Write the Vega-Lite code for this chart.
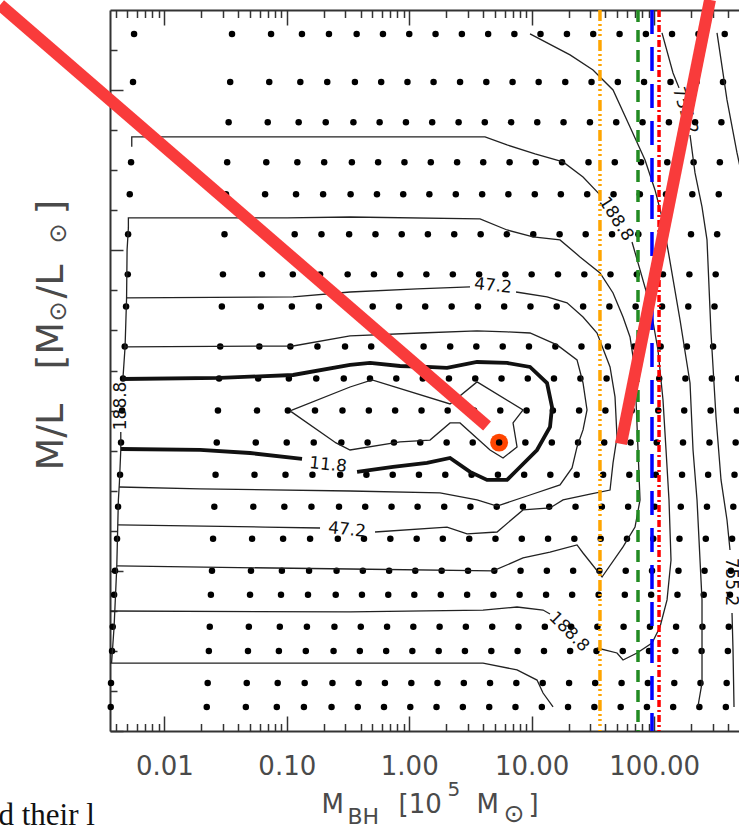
{
"$schema": "https://vega.github.io/schema/vega-lite/v6.json",
"width": 629, "height": 721,
"autosize": {"type": "none"},
"padding": {"left": 110, "top": 10, "right": 0, "bottom": 95},
"background": "white",
"config": {"view": {"stroke": null}, "axis": {"grid": false, "domain": false, "ticks": false, "labels": false, "domainColor": "#333333", "domainWidth": 2, "tickColor": "#333333", "tickWidth": 1.5, "labelFont": "DejaVu Sans", "labelColor": "#4a4a4a", "titleFont": "DejaVu Sans", "titleFontWeight": "normal", "titleColor": "#4a4a4a", "titleAlign": "left", "titleBaseline": "alphabetic"}},
"resolve": {"axis": {"x": "independent", "y": "independent"}},
"datasets": {
"best": [{"M_BH": 5.42, "ML": 1.8}],
"dots": [
{"M_BH":0.00566,"ML":4.35},{"M_BH":0.0357,"ML":4.35},{"M_BH":0.0744,"ML":4.35},{"M_BH":0.133,"ML":4.35},{"M_BH":0.221,"ML":4.35},{"M_BH":0.372,"ML":4.35},{"M_BH":0.610,"ML":4.35},{"M_BH":1.00,"ML":4.35},{"M_BH":1.64,"ML":4.35},{"M_BH":2.69,"ML":4.35},{"M_BH":4.41,"ML":4.35},{"M_BH":7.22,"ML":4.35},{"M_BH":11.8,"ML":4.35},{"M_BH":19.4,"ML":4.35},{"M_BH":31.8,"ML":4.35},{"M_BH":52.2,"ML":4.35},{"M_BH":85.6,"ML":4.35},{"M_BH":140,"ML":4.35},{"M_BH":230,"ML":4.35},{"M_BH":377,"ML":4.35},
{"M_BH":0.00555,"ML":4.05},{"M_BH":0.0345,"ML":4.05},{"M_BH":0.0719,"ML":4.05},{"M_BH":0.129,"ML":4.05},{"M_BH":0.214,"ML":4.05},{"M_BH":0.360,"ML":4.05},{"M_BH":0.590,"ML":4.05},{"M_BH":0.967,"ML":4.05},{"M_BH":1.58,"ML":4.05},{"M_BH":2.60,"ML":4.05},{"M_BH":4.26,"ML":4.05},{"M_BH":6.98,"ML":4.05},{"M_BH":11.4,"ML":4.05},{"M_BH":18.8,"ML":4.05},{"M_BH":30.8,"ML":4.05},{"M_BH":50.5,"ML":4.05},{"M_BH":82.7,"ML":4.05},{"M_BH":136,"ML":4.05},{"M_BH":222,"ML":4.05},{"M_BH":365,"ML":4.05},
{"M_BH":0.0335,"ML":3.8},{"M_BH":0.0699,"ML":3.8},{"M_BH":0.125,"ML":3.8},{"M_BH":0.208,"ML":3.8},{"M_BH":0.350,"ML":3.8},{"M_BH":0.573,"ML":3.8},{"M_BH":0.940,"ML":3.8},{"M_BH":1.54,"ML":3.8},{"M_BH":2.53,"ML":3.8},{"M_BH":4.14,"ML":3.8},{"M_BH":6.79,"ML":3.8},{"M_BH":11.1,"ML":3.8},{"M_BH":18.2,"ML":3.8},{"M_BH":29.9,"ML":3.8},{"M_BH":49.0,"ML":3.8},{"M_BH":80.4,"ML":3.8},{"M_BH":132,"ML":3.8},{"M_BH":216,"ML":3.8},{"M_BH":354,"ML":3.8},
{"M_BH":0.00535,"ML":3.55},{"M_BH":0.0326,"ML":3.55},{"M_BH":0.0680,"ML":3.55},{"M_BH":0.122,"ML":3.55},{"M_BH":0.202,"ML":3.55},{"M_BH":0.340,"ML":3.55},{"M_BH":0.557,"ML":3.55},{"M_BH":0.914,"ML":3.55},{"M_BH":1.50,"ML":3.55},{"M_BH":2.46,"ML":3.55},{"M_BH":4.02,"ML":3.55},{"M_BH":6.60,"ML":3.55},{"M_BH":10.8,"ML":3.55},{"M_BH":17.7,"ML":3.55},{"M_BH":29.1,"ML":3.55},{"M_BH":47.7,"ML":3.55},{"M_BH":78.2,"ML":3.55},{"M_BH":128,"ML":3.55},{"M_BH":210,"ML":3.55},{"M_BH":344,"ML":3.55},
{"M_BH":0.00522,"ML":3.35},{"M_BH":0.0319,"ML":3.35},{"M_BH":0.0665,"ML":3.35},{"M_BH":0.119,"ML":3.35},{"M_BH":0.198,"ML":3.35},{"M_BH":0.332,"ML":3.35},{"M_BH":0.545,"ML":3.35},{"M_BH":0.893,"ML":3.35},{"M_BH":1.46,"ML":3.35},{"M_BH":2.40,"ML":3.35},{"M_BH":3.94,"ML":3.35},{"M_BH":6.45,"ML":3.35},{"M_BH":10.6,"ML":3.35},{"M_BH":17.3,"ML":3.35},{"M_BH":28.4,"ML":3.35},{"M_BH":46.6,"ML":3.35},{"M_BH":76.4,"ML":3.35},{"M_BH":125,"ML":3.35},{"M_BH":205,"ML":3.35},{"M_BH":337,"ML":3.35},
{"M_BH":0.00506,"ML":3.1},{"M_BH":0.0310,"ML":3.1},{"M_BH":0.0646,"ML":3.1},{"M_BH":0.116,"ML":3.1},{"M_BH":0.192,"ML":3.1},{"M_BH":0.323,"ML":3.1},{"M_BH":0.530,"ML":3.1},{"M_BH":0.868,"ML":3.1},{"M_BH":1.42,"ML":3.1},{"M_BH":2.33,"ML":3.1},{"M_BH":3.83,"ML":3.1},{"M_BH":6.27,"ML":3.1},{"M_BH":10.3,"ML":3.1},{"M_BH":16.9,"ML":3.1},{"M_BH":27.6,"ML":3.1},{"M_BH":45.3,"ML":3.1},{"M_BH":74.3,"ML":3.1},{"M_BH":122,"ML":3.1},{"M_BH":200,"ML":3.1},{"M_BH":327,"ML":3.1},
{"M_BH":0.00503,"ML":2.85},{"M_BH":0.0301,"ML":2.85},{"M_BH":0.0628,"ML":2.85},{"M_BH":0.112,"ML":2.85},{"M_BH":0.187,"ML":2.85},{"M_BH":0.314,"ML":2.85},{"M_BH":0.515,"ML":2.85},{"M_BH":0.844,"ML":2.85},{"M_BH":1.38,"ML":2.85},{"M_BH":2.27,"ML":2.85},{"M_BH":3.72,"ML":2.85},{"M_BH":6.10,"ML":2.85},{"M_BH":9.99,"ML":2.85},{"M_BH":16.4,"ML":2.85},{"M_BH":26.9,"ML":2.85},{"M_BH":44.0,"ML":2.85},{"M_BH":72.2,"ML":2.85},{"M_BH":118,"ML":2.85},{"M_BH":194,"ML":2.85},{"M_BH":318,"ML":2.85},
{"M_BH":0.00487,"ML":2.65},{"M_BH":0.0295,"ML":2.65},{"M_BH":0.0614,"ML":2.65},{"M_BH":0.110,"ML":2.65},{"M_BH":0.183,"ML":2.65},{"M_BH":0.307,"ML":2.65},{"M_BH":0.503,"ML":2.65},{"M_BH":0.825,"ML":2.65},{"M_BH":1.35,"ML":2.65},{"M_BH":2.22,"ML":2.65},{"M_BH":3.64,"ML":2.65},{"M_BH":5.96,"ML":2.65},{"M_BH":9.77,"ML":2.65},{"M_BH":16.0,"ML":2.65},{"M_BH":26.3,"ML":2.65},{"M_BH":43.1,"ML":2.65},{"M_BH":70.6,"ML":2.65},{"M_BH":116,"ML":2.65},{"M_BH":190,"ML":2.65},{"M_BH":311,"ML":2.65},
{"M_BH":0.00475,"ML":2.4},{"M_BH":0.0286,"ML":2.4},{"M_BH":0.0597,"ML":2.4},{"M_BH":0.107,"ML":2.4},{"M_BH":0.178,"ML":2.4},{"M_BH":0.299,"ML":2.4},{"M_BH":0.489,"ML":2.4},{"M_BH":0.802,"ML":2.4},{"M_BH":1.31,"ML":2.4},{"M_BH":2.16,"ML":2.4},{"M_BH":3.53,"ML":2.4},{"M_BH":5.80,"ML":2.4},{"M_BH":9.50,"ML":2.4},{"M_BH":15.6,"ML":2.4},{"M_BH":25.5,"ML":2.4},{"M_BH":41.9,"ML":2.4},{"M_BH":68.7,"ML":2.4},{"M_BH":113,"ML":2.4},{"M_BH":185,"ML":2.4},{"M_BH":303,"ML":2.4},
{"M_BH":0.00460,"ML":2.2},{"M_BH":0.0280,"ML":2.2},{"M_BH":0.0584,"ML":2.2},{"M_BH":0.104,"ML":2.2},{"M_BH":0.174,"ML":2.2},{"M_BH":0.292,"ML":2.2},{"M_BH":0.478,"ML":2.2},{"M_BH":0.784,"ML":2.2},{"M_BH":1.29,"ML":2.2},{"M_BH":2.11,"ML":2.2},{"M_BH":3.46,"ML":2.2},{"M_BH":5.67,"ML":2.2},{"M_BH":9.29,"ML":2.2},{"M_BH":15.2,"ML":2.2},{"M_BH":25.0,"ML":2.2},{"M_BH":40.9,"ML":2.2},{"M_BH":67.1,"ML":2.2},{"M_BH":110,"ML":2.2},{"M_BH":180,"ML":2.2},{"M_BH":296,"ML":2.2},{"M_BH":485,"ML":2.2},
{"M_BH":0.00452,"ML":2.0},{"M_BH":0.0274,"ML":2.0},{"M_BH":0.0571,"ML":2.0},{"M_BH":0.102,"ML":2.0},{"M_BH":0.170,"ML":2.0},{"M_BH":0.285,"ML":2.0},{"M_BH":0.468,"ML":2.0},{"M_BH":0.767,"ML":2.0},{"M_BH":1.26,"ML":2.0},{"M_BH":2.06,"ML":2.0},{"M_BH":3.38,"ML":2.0},{"M_BH":5.54,"ML":2.0},{"M_BH":9.08,"ML":2.0},{"M_BH":14.9,"ML":2.0},{"M_BH":24.4,"ML":2.0},{"M_BH":40.0,"ML":2.0},{"M_BH":65.6,"ML":2.0},{"M_BH":108,"ML":2.0},{"M_BH":176,"ML":2.0},{"M_BH":289,"ML":2.0},{"M_BH":474,"ML":2.0},
{"M_BH":0.00443,"ML":1.8},{"M_BH":0.0268,"ML":1.8},{"M_BH":0.0558,"ML":1.8},{"M_BH":0.0999,"ML":1.8},{"M_BH":0.166,"ML":1.8},{"M_BH":0.279,"ML":1.8},{"M_BH":0.457,"ML":1.8},{"M_BH":0.750,"ML":1.8},{"M_BH":1.23,"ML":1.8},{"M_BH":2.02,"ML":1.8},{"M_BH":3.30,"ML":1.8},{"M_BH":5.42,"ML":1.8},{"M_BH":8.88,"ML":1.8},{"M_BH":14.6,"ML":1.8},{"M_BH":23.9,"ML":1.8},{"M_BH":39.1,"ML":1.8},{"M_BH":64.2,"ML":1.8},{"M_BH":105,"ML":1.8},{"M_BH":172,"ML":1.8},{"M_BH":283,"ML":1.8},{"M_BH":463,"ML":1.8},
{"M_BH":0.00435,"ML":1.6},{"M_BH":0.0262,"ML":1.6},{"M_BH":0.0545,"ML":1.6},{"M_BH":0.0976,"ML":1.6},{"M_BH":0.162,"ML":1.6},{"M_BH":0.273,"ML":1.6},{"M_BH":0.447,"ML":1.6},{"M_BH":0.733,"ML":1.6},{"M_BH":1.20,"ML":1.6},{"M_BH":1.97,"ML":1.6},{"M_BH":3.23,"ML":1.6},{"M_BH":5.30,"ML":1.6},{"M_BH":8.68,"ML":1.6},{"M_BH":14.2,"ML":1.6},{"M_BH":23.3,"ML":1.6},{"M_BH":38.3,"ML":1.6},{"M_BH":62.7,"ML":1.6},{"M_BH":103,"ML":1.6},{"M_BH":169,"ML":1.6},{"M_BH":276,"ML":1.6},{"M_BH":453,"ML":1.6},
{"M_BH":0.00419,"ML":1.4},{"M_BH":0.0256,"ML":1.4},{"M_BH":0.0533,"ML":1.4},{"M_BH":0.0955,"ML":1.4},{"M_BH":0.159,"ML":1.4},{"M_BH":0.267,"ML":1.4},{"M_BH":0.437,"ML":1.4},{"M_BH":0.717,"ML":1.4},{"M_BH":1.17,"ML":1.4},{"M_BH":1.93,"ML":1.4},{"M_BH":3.16,"ML":1.4},{"M_BH":5.18,"ML":1.4},{"M_BH":8.48,"ML":1.4},{"M_BH":13.9,"ML":1.4},{"M_BH":22.8,"ML":1.4},{"M_BH":37.4,"ML":1.4},{"M_BH":61.3,"ML":1.4},{"M_BH":101,"ML":1.4},{"M_BH":165,"ML":1.4},{"M_BH":270,"ML":1.4},{"M_BH":443,"ML":1.4},
{"M_BH":0.00411,"ML":1.2},{"M_BH":0.0250,"ML":1.2},{"M_BH":0.0521,"ML":1.2},{"M_BH":0.0933,"ML":1.2},{"M_BH":0.155,"ML":1.2},{"M_BH":0.261,"ML":1.2},{"M_BH":0.427,"ML":1.2},{"M_BH":0.701,"ML":1.2},{"M_BH":1.15,"ML":1.2},{"M_BH":1.88,"ML":1.2},{"M_BH":3.09,"ML":1.2},{"M_BH":5.06,"ML":1.2},{"M_BH":8.30,"ML":1.2},{"M_BH":13.6,"ML":1.2},{"M_BH":22.3,"ML":1.2},{"M_BH":36.6,"ML":1.2},{"M_BH":60.0,"ML":1.2},{"M_BH":98.3,"ML":1.2},{"M_BH":161,"ML":1.2},{"M_BH":264,"ML":1.2},{"M_BH":433,"ML":1.2},
{"M_BH":0.00396,"ML":1.0},{"M_BH":0.0245,"ML":1.0},{"M_BH":0.0510,"ML":1.0},{"M_BH":0.0912,"ML":1.0},{"M_BH":0.152,"ML":1.0},{"M_BH":0.255,"ML":1.0},{"M_BH":0.418,"ML":1.0},{"M_BH":0.685,"ML":1.0},{"M_BH":1.12,"ML":1.0},{"M_BH":1.84,"ML":1.0},{"M_BH":3.02,"ML":1.0},{"M_BH":4.95,"ML":1.0},{"M_BH":8.11,"ML":1.0},{"M_BH":13.3,"ML":1.0},{"M_BH":21.8,"ML":1.0},{"M_BH":35.7,"ML":1.0},{"M_BH":58.6,"ML":1.0},{"M_BH":96.1,"ML":1.0},{"M_BH":158,"ML":1.0},{"M_BH":258,"ML":1.0},{"M_BH":423,"ML":1.0},
{"M_BH":0.00389,"ML":0.85},{"M_BH":0.0240,"ML":0.85},{"M_BH":0.0501,"ML":0.85},{"M_BH":0.0897,"ML":0.85},{"M_BH":0.149,"ML":0.85},{"M_BH":0.251,"ML":0.85},{"M_BH":0.411,"ML":0.85},{"M_BH":0.674,"ML":0.85},{"M_BH":1.10,"ML":0.85},{"M_BH":1.81,"ML":0.85},{"M_BH":2.97,"ML":0.85},{"M_BH":4.87,"ML":0.85},{"M_BH":7.97,"ML":0.85},{"M_BH":13.1,"ML":0.85},{"M_BH":21.4,"ML":0.85},{"M_BH":35.2,"ML":0.85},{"M_BH":57.6,"ML":0.85},{"M_BH":94.5,"ML":0.85},{"M_BH":155,"ML":0.85},{"M_BH":254,"ML":0.85},{"M_BH":416,"ML":0.85},
{"M_BH":0.00379,"ML":0.65},{"M_BH":0.0235,"ML":0.65},{"M_BH":0.0490,"ML":0.65},{"M_BH":0.0877,"ML":0.65},{"M_BH":0.146,"ML":0.65},{"M_BH":0.245,"ML":0.65},{"M_BH":0.402,"ML":0.65},{"M_BH":0.659,"ML":0.65},{"M_BH":1.08,"ML":0.65},{"M_BH":1.77,"ML":0.65},{"M_BH":2.90,"ML":0.65},{"M_BH":4.76,"ML":0.65},{"M_BH":7.80,"ML":0.65},{"M_BH":12.8,"ML":0.65},{"M_BH":21.0,"ML":0.65},{"M_BH":34.4,"ML":0.65},{"M_BH":56.3,"ML":0.65},{"M_BH":92.4,"ML":0.65},{"M_BH":151,"ML":0.65},{"M_BH":248,"ML":0.65},{"M_BH":407,"ML":0.65},
{"M_BH":0.00374,"ML":0.5},{"M_BH":0.0231,"ML":0.5},{"M_BH":0.0482,"ML":0.5},{"M_BH":0.0862,"ML":0.5},{"M_BH":0.143,"ML":0.5},{"M_BH":0.241,"ML":0.5},{"M_BH":0.395,"ML":0.5},{"M_BH":0.648,"ML":0.5},{"M_BH":1.06,"ML":0.5},{"M_BH":1.74,"ML":0.5},{"M_BH":2.85,"ML":0.5},{"M_BH":4.68,"ML":0.5},{"M_BH":7.67,"ML":0.5},{"M_BH":12.6,"ML":0.5},{"M_BH":20.6,"ML":0.5},{"M_BH":33.8,"ML":0.5},{"M_BH":55.4,"ML":0.5},{"M_BH":90.8,"ML":0.5},{"M_BH":149,"ML":0.5},{"M_BH":244,"ML":0.5},{"M_BH":400,"ML":0.5},
{"M_BH":0.00367,"ML":0.3},{"M_BH":0.0226,"ML":0.3},{"M_BH":0.0471,"ML":0.3},{"M_BH":0.0843,"ML":0.3},{"M_BH":0.140,"ML":0.3},{"M_BH":0.236,"ML":0.3},{"M_BH":0.386,"ML":0.3},{"M_BH":0.633,"ML":0.3},{"M_BH":1.04,"ML":0.3},{"M_BH":1.70,"ML":0.3},{"M_BH":2.79,"ML":0.3},{"M_BH":4.57,"ML":0.3},{"M_BH":7.49,"ML":0.3},{"M_BH":12.3,"ML":0.3},{"M_BH":20.2,"ML":0.3},{"M_BH":33.0,"ML":0.3},{"M_BH":54.2,"ML":0.3},{"M_BH":88.8,"ML":0.3},{"M_BH":146,"ML":0.3},{"M_BH":239,"ML":0.3},{"M_BH":391,"ML":0.3},
{"M_BH":0.00365,"ML":0.15},{"M_BH":0.0222,"ML":0.15},{"M_BH":0.0463,"ML":0.15},{"M_BH":0.0829,"ML":0.15},{"M_BH":0.138,"ML":0.15},{"M_BH":0.232,"ML":0.15},{"M_BH":0.380,"ML":0.15},{"M_BH":0.622,"ML":0.15},{"M_BH":1.02,"ML":0.15},{"M_BH":1.67,"ML":0.15},{"M_BH":2.74,"ML":0.15},{"M_BH":4.50,"ML":0.15},{"M_BH":7.37,"ML":0.15},{"M_BH":12.1,"ML":0.15},{"M_BH":19.8,"ML":0.15},{"M_BH":32.5,"ML":0.15},{"M_BH":53.3,"ML":0.15},{"M_BH":87.3,"ML":0.15},{"M_BH":143,"ML":0.15},{"M_BH":234,"ML":0.15},{"M_BH":385,"ML":0.15}
],
"contours": [
{"seg":"t11a","level":11.8,"i":0,"M_BH":0.00452,"ML":2.197},{"seg":"t11a","level":11.8,"i":1,"M_BH":0.0285,"ML":2.204},{"seg":"t11a","level":11.8,"i":2,"M_BH":0.1125,"ML":2.222},{"seg":"t11a","level":11.8,"i":3,"M_BH":0.3286,"ML":2.285},{"seg":"t11a","level":11.8,"i":4,"M_BH":0.4785,"ML":2.297},{"seg":"t11a","level":11.8,"i":5,"M_BH":0.8413,"ML":2.278},{"seg":"t11a","level":11.8,"i":6,"M_BH":1.397,"ML":2.272},{"seg":"t11a","level":11.8,"i":7,"M_BH":2.035,"ML":2.266},{"seg":"t11a","level":11.8,"i":8,"M_BH":3.578,"ML":2.303},{"seg":"t11a","level":11.8,"i":9,"M_BH":6.29,"ML":2.297},{"seg":"t11a","level":11.8,"i":10,"M_BH":9.69,"ML":2.272},{"seg":"t11a","level":11.8,"i":11,"M_BH":13.34,"ML":2.172},{"seg":"t11a","level":11.8,"i":12,"M_BH":14.66,"ML":2.022},{"seg":"t11a","level":11.8,"i":13,"M_BH":14.11,"ML":1.898},{"seg":"t11a","level":11.8,"i":14,"M_BH":11.05,"ML":1.754},{"seg":"t11a","level":11.8,"i":15,"M_BH":7.59,"ML":1.629},{"seg":"t11a","level":11.8,"i":16,"M_BH":6.29,"ML":1.567},{"seg":"t11a","level":11.8,"i":17,"M_BH":4.318,"ML":1.567},{"seg":"t11a","level":11.8,"i":18,"M_BH":3.136,"ML":1.617},{"seg":"t11a","level":11.8,"i":19,"M_BH":2.154,"ML":1.704},{"seg":"t11a","level":11.8,"i":20,"M_BH":1.397,"ML":1.673},{"seg":"t11a","level":11.8,"i":21,"M_BH":0.7376,"ML":1.648},{"seg":"t11a","level":11.8,"i":22,"M_BH":0.3749,"ML":1.617},
{"seg":"t11b","level":11.8,"i":0,"M_BH":0.1332,"ML":1.698},{"seg":"t11b","level":11.8,"i":1,"M_BH":0.0501,"ML":1.735},{"seg":"t11b","level":11.8,"i":2,"M_BH":0.01958,"ML":1.754},{"seg":"t11b","level":11.8,"i":3,"M_BH":0.00443,"ML":1.76},
{"seg":"in","level":2.95,"i":0,"M_BH":0.1063,"ML":1.998},{"seg":"in","level":2.95,"i":1,"M_BH":0.3286,"ML":2.147},{"seg":"in","level":2.95,"i":2,"M_BH":0.497,"ML":2.191},{"seg":"in","level":2.95,"i":3,"M_BH":2.154,"ML":2.041},{"seg":"in","level":2.95,"i":4,"M_BH":3.578,"ML":2.179},{"seg":"in","level":2.95,"i":5,"M_BH":8.497,"ML":2.004},{"seg":"in","level":2.95,"i":6,"M_BH":7.04,"ML":1.923},{"seg":"in","level":2.95,"i":7,"M_BH":7.59,"ML":1.773},{"seg":"in","level":2.95,"i":8,"M_BH":5.833,"ML":1.704},{"seg":"in","level":2.95,"i":9,"M_BH":4.568,"ML":1.754},{"seg":"in","level":2.95,"i":10,"M_BH":2.598,"ML":1.923},{"seg":"in","level":2.95,"i":11,"M_BH":2.154,"ML":1.923},{"seg":"in","level":2.95,"i":12,"M_BH":1.478,"ML":1.816},{"seg":"in","level":2.95,"i":13,"M_BH":0.8414,"ML":1.804},{"seg":"in","level":2.95,"i":14,"M_BH":0.3286,"ML":1.754},{"seg":"in","level":2.95,"i":15,"M_BH":0.2525,"ML":1.798},{"seg":"in","level":2.95,"i":16,"M_BH":0.1063,"ML":1.998},
{"seg":"c23","level":23.6,"i":0,"M_BH":0.00478,"ML":2.397},{"seg":"c23","level":23.6,"i":1,"M_BH":0.1125,"ML":2.403},{"seg":"c23","level":23.6,"i":2,"M_BH":0.3286,"ML":2.466},{"seg":"c23","level":23.6,"i":3,"M_BH":1.225,"ML":2.484},{"seg":"c23","level":23.6,"i":4,"M_BH":3.578,"ML":2.497},{"seg":"c23","level":23.6,"i":5,"M_BH":6.29,"ML":2.491},{"seg":"c23","level":23.6,"i":6,"M_BH":9.69,"ML":2.484},{"seg":"c23","level":23.6,"i":7,"M_BH":16.1,"ML":2.41},{"seg":"c23","level":23.6,"i":8,"M_BH":23.45,"ML":2.316},{"seg":"c23","level":23.6,"i":9,"M_BH":26.25,"ML":2.172},{"seg":"c23","level":23.6,"i":10,"M_BH":28.3,"ML":2.004},{"seg":"c23","level":23.6,"i":11,"M_BH":26.25,"ML":1.879},{"seg":"c23","level":23.6,"i":12,"M_BH":23.45,"ML":1.773},{"seg":"c23","level":23.6,"i":13,"M_BH":21.35,"ML":1.642},{"seg":"c23","level":23.6,"i":14,"M_BH":17.03,"ML":1.536},{"seg":"c23","level":23.6,"i":15,"M_BH":9.69,"ML":1.473},{"seg":"c23","level":23.6,"i":16,"M_BH":5.212,"ML":1.404},{"seg":"c23","level":23.6,"i":17,"M_BH":3.578,"ML":1.442},{"seg":"c23","level":23.6,"i":18,"M_BH":1.784,"ML":1.486},{"seg":"c23","level":23.6,"i":19,"M_BH":0.3286,"ML":1.498},{"seg":"c23","level":23.6,"i":20,"M_BH":0.01958,"ML":1.511},{"seg":"c23","level":23.6,"i":21,"M_BH":0.00427,"ML":1.523},
{"seg":"c47a","level":47.2,"i":0,"M_BH":0.00487,"ML":2.703},{"seg":"c47a","level":47.2,"i":1,"M_BH":0.1125,"ML":2.709},{"seg":"c47a","level":47.2,"i":2,"M_BH":0.3286,"ML":2.74},{"seg":"c47a","level":47.2,"i":3,"M_BH":1.158,"ML":2.759},{"seg":"c47a","level":47.2,"i":4,"M_BH":3.136,"ML":2.772},
{"seg":"c47b","level":47.2,"i":0,"M_BH":7.449,"ML":2.74},{"seg":"c47b","level":47.2,"i":1,"M_BH":13.34,"ML":2.709},{"seg":"c47b","level":47.2,"i":2,"M_BH":19.43,"ML":2.672},{"seg":"c47b","level":47.2,"i":3,"M_BH":26.25,"ML":2.584},{"seg":"c47b","level":47.2,"i":4,"M_BH":34.16,"ML":2.484},{"seg":"c47b","level":47.2,"i":5,"M_BH":43.62,"ML":2.272},{"seg":"c47b","level":47.2,"i":6,"M_BH":47.9,"ML":2.085},{"seg":"c47b","level":47.2,"i":7,"M_BH":49.74,"ML":1.835},{"seg":"c47b","level":47.2,"i":8,"M_BH":46.15,"ML":1.673},{"seg":"c47b","level":47.2,"i":9,"M_BH":43.62,"ML":1.504},{"seg":"c47b","level":47.2,"i":10,"M_BH":29.94,"ML":1.479},{"seg":"c47b","level":47.2,"i":11,"M_BH":18.03,"ML":1.442},{"seg":"c47b","level":47.2,"i":12,"M_BH":14.11,"ML":1.392},{"seg":"c47b","level":47.2,"i":13,"M_BH":8.497,"ML":1.38},{"seg":"c47b","level":47.2,"i":14,"M_BH":5.212,"ML":1.242},{"seg":"c47b","level":47.2,"i":15,"M_BH":2.965,"ML":1.23},{"seg":"c47b","level":47.2,"i":16,"M_BH":2.035,"ML":1.273},{"seg":"c47b","level":47.2,"i":17,"M_BH":0.5256,"ML":1.242},
{"seg":"c47c","level":47.2,"i":0,"M_BH":0.1869,"ML":1.267},{"seg":"c47c","level":47.2,"i":1,"M_BH":0.06646,"ML":1.273},{"seg":"c47c","level":47.2,"i":2,"M_BH":0.00419,"ML":1.286},
{"seg":"c94","level":94.4,"i":0,"M_BH":0.005087,"ML":3.14},{"seg":"c94","level":94.4,"i":1,"M_BH":0.005087,"ML":3.202},{"seg":"c94","level":94.4,"i":2,"M_BH":0.1005,"ML":3.202},{"seg":"c94","level":94.4,"i":3,"M_BH":0.3286,"ML":3.208},{"seg":"c94","level":94.4,"i":4,"M_BH":3.785,"ML":3.196},{"seg":"c94","level":94.4,"i":5,"M_BH":6.29,"ML":3.127},{"seg":"c94","level":94.4,"i":6,"M_BH":10.25,"ML":3.084},{"seg":"c94","level":94.4,"i":7,"M_BH":17.03,"ML":3.065},{"seg":"c94","level":94.4,"i":8,"M_BH":24.81,"ML":2.959},{"seg":"c94","level":94.4,"i":9,"M_BH":36.14,"ML":2.859},{"seg":"c94","level":94.4,"i":10,"M_BH":46.15,"ML":2.734},{"seg":"c94","level":94.4,"i":11,"M_BH":55.69,"ML":2.584},{"seg":"c94","level":94.4,"i":12,"M_BH":63.53,"ML":2.459},{"seg":"c94","level":94.4,"i":13,"M_BH":67.21,"ML":2.335},{"seg":"c94","level":94.4,"i":14,"M_BH":71.11,"ML":2.066},{"seg":"c94","level":94.4,"i":15,"M_BH":73.83,"ML":1.754},{"seg":"c94","level":94.4,"i":16,"M_BH":76.67,"ML":1.442},{"seg":"c94","level":94.4,"i":17,"M_BH":69.78,"ML":1.273},{"seg":"c94","level":94.4,"i":18,"M_BH":55.69,"ML":1.149},{"seg":"c94","level":94.4,"i":19,"M_BH":37.53,"ML":0.961},{"seg":"c94","level":94.4,"i":20,"M_BH":26.25,"ML":1.111},{"seg":"c94","level":94.4,"i":21,"M_BH":23.45,"ML":1.161},{"seg":"c94","level":94.4,"i":22,"M_BH":14.11,"ML":1.117},{"seg":"c94","level":94.4,"i":23,"M_BH":8.497,"ML":1.08},{"seg":"c94","level":94.4,"i":24,"M_BH":4.833,"ML":0.999},{"seg":"c94","level":94.4,"i":25,"M_BH":0.3286,"ML":1.011},{"seg":"c94","level":94.4,"i":26,"M_BH":0.004112,"ML":1.03},
{"seg":"c188a","level":188.8,"i":0,"M_BH":0.00542,"ML":3.647},{"seg":"c188a","level":188.8,"i":1,"M_BH":0.00542,"ML":3.708},{"seg":"c188a","level":188.8,"i":2,"M_BH":4.157,"ML":3.708},{"seg":"c188a","level":188.8,"i":3,"M_BH":6.29,"ML":3.658},{"seg":"c188a","level":188.8,"i":4,"M_BH":10.65,"ML":3.602},{"seg":"c188a","level":188.8,"i":5,"M_BH":18.03,"ML":3.552},{"seg":"c188a","level":188.8,"i":6,"M_BH":26.25,"ML":3.458},{"seg":"c188a","level":188.8,"i":7,"M_BH":36.14,"ML":3.346},
{"seg":"c188b","level":188.8,"i":0,"M_BH":65.95,"ML":3.052},{"seg":"c188b","level":188.8,"i":1,"M_BH":76.67,"ML":2.878},{"seg":"c188b","level":188.8,"i":2,"M_BH":92.52,"ML":2.659},{"seg":"c188b","level":188.8,"i":3,"M_BH":107.5,"ML":2.378},{"seg":"c188b","level":188.8,"i":4,"M_BH":118.1,"ML":2.066},{"seg":"c188b","level":188.8,"i":5,"M_BH":125.0,"ML":1.754},{"seg":"c188b","level":188.8,"i":6,"M_BH":132.2,"ML":1.442},{"seg":"c188b","level":188.8,"i":7,"M_BH":137.3,"ML":1.067},{"seg":"c188b","level":188.8,"i":8,"M_BH":127.4,"ML":0.818},{"seg":"c188b","level":188.8,"i":9,"M_BH":111.6,"ML":0.649},{"seg":"c188b","level":188.8,"i":10,"M_BH":96.05,"ML":0.549},{"seg":"c188b","level":188.8,"i":11,"M_BH":72.46,"ML":0.487},{"seg":"c188b","level":188.8,"i":12,"M_BH":55.69,"ML":0.443},{"seg":"c188b","level":188.8,"i":13,"M_BH":49.74,"ML":0.487},{"seg":"c188b","level":188.8,"i":14,"M_BH":34.16,"ML":0.518},
{"seg":"c188c","level":188.8,"i":0,"M_BH":14.11,"ML":0.73},{"seg":"c188c","level":188.8,"i":1,"M_BH":12.38,"ML":0.755},{"seg":"c188c","level":188.8,"i":2,"M_BH":7.59,"ML":0.774},{"seg":"c188c","level":188.8,"i":3,"M_BH":4.005,"ML":0.755},{"seg":"c188c","level":188.8,"i":4,"M_BH":0.3286,"ML":0.743},{"seg":"c188c","level":188.8,"i":5,"M_BH":0.003604,"ML":0.749},
{"seg":"left1","level":188.8,"i":0,"M_BH":0.005087,"ML":3.14},{"seg":"left1","level":188.8,"i":1,"M_BH":0.004964,"ML":3.002},{"seg":"left1","level":188.8,"i":2,"M_BH":0.004917,"ML":2.703},{"seg":"left1","level":188.8,"i":3,"M_BH":0.004779,"ML":2.397},{"seg":"left1","level":188.8,"i":4,"M_BH":0.004578,"ML":2.185},
{"seg":"left2","level":188.8,"i":0,"M_BH":0.004409,"ML":1.866},{"seg":"left2","level":188.8,"i":1,"M_BH":0.004409,"ML":1.754},{"seg":"left2","level":188.8,"i":2,"M_BH":0.004295,"ML":1.548},{"seg":"left2","level":188.8,"i":3,"M_BH":0.004214,"ML":1.442},{"seg":"left2","level":188.8,"i":4,"M_BH":0.004089,"ML":1.024},{"seg":"left2","level":188.8,"i":5,"M_BH":0.003887,"ML":0.649},{"seg":"left2","level":188.8,"i":6,"M_BH":0.003708,"ML":0.424},
{"seg":"c377a","level":377.6,"i":0,"M_BH":9.69,"ML":4.351},{"seg":"c377a","level":377.6,"i":1,"M_BH":20.56,"ML":4.22},{"seg":"c377a","level":377.6,"i":2,"M_BH":31.68,"ML":4.126},{"seg":"c377a","level":377.6,"i":3,"M_BH":46.15,"ML":4.001},{"seg":"c377a","level":377.6,"i":4,"M_BH":63.53,"ML":3.77},{"seg":"c377a","level":377.6,"i":5,"M_BH":84.23,"ML":3.564},{"seg":"c377a","level":377.6,"i":6,"M_BH":101.6,"ML":3.377},{"seg":"c377a","level":377.6,"i":7,"M_BH":115.9,"ML":3.208},{"seg":"c377a","level":377.6,"i":8,"M_BH":129.8,"ML":3.002},{"seg":"c377a","level":377.6,"i":9,"M_BH":162.6,"ML":2.566},{"seg":"c377a","level":377.6,"i":10,"M_BH":196.3,"ML":2.172},{"seg":"c377a","level":377.6,"i":11,"M_BH":207.7,"ML":1.754},{"seg":"c377a","level":377.6,"i":12,"M_BH":223.9,"ML":1.442},{"seg":"c377a","level":377.6,"i":13,"M_BH":245.9,"ML":0.818},{"seg":"c377a","level":377.6,"i":14,"M_BH":245.9,"ML":0.3},{"seg":"c377a","level":377.6,"i":15,"M_BH":228.1,"ML":0.156},
{"seg":"c377b","level":377.6,"i":0,"M_BH":0.003604,"ML":0.424},{"seg":"c377b","level":377.6,"i":1,"M_BH":0.3286,"ML":0.424},{"seg":"c377b","level":377.6,"i":2,"M_BH":4.005,"ML":0.424},{"seg":"c377b","level":377.6,"i":3,"M_BH":7.59,"ML":0.381},{"seg":"c377b","level":377.6,"i":4,"M_BH":11.05,"ML":0.318},{"seg":"c377b","level":377.6,"i":5,"M_BH":12.38,"ML":0.237},{"seg":"c377b","level":377.6,"i":6,"M_BH":14.94,"ML":0.15},
{"seg":"c755a","level":755.2,"i":0,"M_BH":115.9,"ML":4.357},{"seg":"c755a","level":755.2,"i":1,"M_BH":142.6,"ML":4.107},{"seg":"c755a","level":755.2,"i":2,"M_BH":159.6,"ML":4.014},
{"seg":"c755b","level":755.2,"i":0,"M_BH":196.3,"ML":3.72},{"seg":"c755b","level":755.2,"i":1,"M_BH":215.6,"ML":3.483},{"seg":"c755b","level":755.2,"i":2,"M_BH":245.9,"ML":3.271},{"seg":"c755b","level":755.2,"i":3,"M_BH":270.1,"ML":3.065},{"seg":"c755b","level":755.2,"i":4,"M_BH":291.2,"ML":2.484},{"seg":"c755b","level":755.2,"i":5,"M_BH":320.0,"ML":1.96},{"seg":"c755b","level":755.2,"i":6,"M_BH":351.6,"ML":1.567},{"seg":"c755b","level":755.2,"i":7,"M_BH":393.4,"ML":1.317},{"seg":"c755b","level":755.2,"i":8,"M_BH":416.3,"ML":1.13},
{"seg":"c755c","level":755.2,"i":0,"M_BH":432.3,"ML":0.737},{"seg":"c755c","level":755.2,"i":1,"M_BH":440.5,"ML":0.506},{"seg":"c755c","level":755.2,"i":2,"M_BH":448.9,"ML":0.15},
{"seg":"c1510","level":1510.4,"i":0,"M_BH":326.1,"ML":4.357},{"seg":"c1510","level":1510.4,"i":1,"M_BH":393.4,"ML":3.939},{"seg":"c1510","level":1510.4,"i":2,"M_BH":474.9,"ML":3.608},{"seg":"c1510","level":1510.4,"i":3,"M_BH":552.0,"ML":3.377}
],
"refs": [{"ref":"A","M_BH":36.1},{"ref":"B","M_BH":73.8},{"ref":"C","M_BH":96.0},{"ref":"D","M_BH":109.6}],
"arrows": [{"arrow":"a","i":0,"M_BH":0.000456,"ML":4.532},{"arrow":"a","i":1,"M_BH":4.318,"ML":1.904},{"arrow":"b","i":0,"M_BH":53.63,"ML":1.792},{"arrow":"b","i":1,"M_BH":285.8,"ML":4.563}]
},
"layer": [
{"data": {"name": "best"}, "mark": {"type": "circle", "size": 320, "color": "#ff4500", "opacity": 1},
 "encoding": {
  "x": {"field": "M_BH", "type": "quantitative", "scale": {"type": "log", "domain": [0.0036, 493], "nice": false},
   "axis": {"orient": "bottom", "domain": true, "labels": true, "ticks": false, "tickSize": 0, "values": [0.01, 0.1, 1, 10, 100], "format": ".2f", "labelFontSize": 26, "labelPadding": 43, "labelBaseline": "alphabetic", "labelFlush": false, "labelOverlap": false, "title": "M", "titleX": 211, "titleY": 81, "titleFontSize": 26, "titleAngle": 0}},
  "y": {"field": "ML", "type": "quantitative", "scale": {"domain": [0, 4.5], "nice": false, "zero": false},
   "axis": {"orient": "left", "domain": true, "title": "M/L", "titleX": -48, "titleY": 460, "titleAngle": 270, "titleFontSize": 38}}}},
{"data": {"name": "dots"}, "mark": {"type": "circle", "size": 42, "color": "#000000", "opacity": 1},
 "encoding": {
  "x": {"field": "M_BH", "type": "quantitative", "scale": {"type": "log", "domain": [0.0036, 493], "nice": false},
   "axis": {"orient": "bottom", "ticks": true, "tickSize": 15, "offset": -15, "values": [0.01, 0.1, 1, 10, 100], "title": "BH", "titleX": 237, "titleY": 107, "titleFontSize": 22, "titleAngle": 0}},
  "y": {"field": "ML", "type": "quantitative", "scale": {"domain": [0, 4.5], "nice": false, "zero": false},
   "axis": {"orient": "left", "ticks": true, "tickSize": 13, "offset": -13, "values": [0, 1, 2, 3, 4], "title": "[M", "titleX": -61, "titleY": 359, "titleAngle": 270, "titleFontSize": 38}}}},
{"data": {"name": "contours"}, "transform": [{"filter": "datum.level != 11.8"}], "mark": {"type": "line", "strokeWidth": 1.3, "color": "#222222"},
 "encoding": {
  "x": {"field": "M_BH", "type": "quantitative", "scale": {"type": "log", "domain": [0.0036, 493], "nice": false},
   "axis": {"orient": "bottom", "ticks": true, "tickSize": 7.5, "offset": -7.5, "values": [0.004,0.005,0.006,0.007,0.008,0.009,0.02,0.03,0.04,0.05,0.06,0.07,0.08,0.09,0.2,0.3,0.4,0.5,0.6,0.7,0.8,0.9,2,3,4,5,6,7,8,9,20,30,40,50,60,70,80,90,200,300,400], "title": "[10", "titleX": 288, "titleY": 88.5, "titleFontSize": 26, "titleAngle": 0}},
  "y": {"field": "ML", "type": "quantitative", "scale": {"domain": [0, 4.5], "nice": false, "zero": false},
   "axis": {"orient": "left", "ticks": true, "tickSize": 7, "offset": -7, "values": [0.25,0.5,0.75,1.25,1.5,1.75,2.25,2.5,2.75,3.25,3.5,3.75,4.25], "title": "⊙", "titleX": -52, "titleY": 311, "titleAngle": 270, "titleFontSize": 24}},
  "detail": {"field": "seg", "type": "nominal"},
  "order": {"field": "i", "type": "quantitative"}}},
{"data": {"name": "contours"}, "transform": [{"filter": "datum.level == 11.8"}], "mark": {"type": "line", "strokeWidth": 3.8, "color": "#111111"},
 "encoding": {
  "x": {"field": "M_BH", "type": "quantitative", "scale": {"type": "log", "domain": [0.0036, 493], "nice": false},
   "axis": {"orient": "top", "domain": true, "title": "5", "titleX": 337, "titleY": 785, "titleFontSize": 20, "titleAngle": 0}},
  "y": {"field": "ML", "type": "quantitative", "scale": {"domain": [0, 4.5], "nice": false, "zero": false},
   "axis": {"orient": "left", "title": "/L", "titleX": -48, "titleY": 288, "titleAngle": 270, "titleFontSize": 38}},
  "detail": {"field": "seg", "type": "nominal"},
  "order": {"field": "i", "type": "quantitative"}}},
{"data": {"values": [{"text": "11.8", "M_BH": 0.2173, "ML": 1.66}, {"text": "47.2", "M_BH": 4.833, "ML": 2.778}, {"text": "47.2", "M_BH": 0.3105, "ML": 1.255}]},
 "mark": {"type": "text", "angle": 6, "font": "DejaVu Sans", "fontSize": 17, "align": "center", "baseline": "middle", "color": "#111111"},
 "encoding": {
  "x": {"field": "M_BH", "type": "quantitative", "scale": {"type": "log", "domain": [0.0036, 493], "nice": false},
   "axis": {"orient": "top", "ticks": true, "tickSize": 15, "offset": -15, "values": [0.01, 0.1, 1, 10, 100], "title": "M", "titleX": 366, "titleY": 787, "titleFontSize": 26, "titleAngle": 0}},
  "y": {"field": "ML", "type": "quantitative", "scale": {"domain": [0, 4.5], "nice": false, "zero": false},
   "axis": {"orient": "left", "title": "⊙", "titleX": -45, "titleY": 233, "titleAngle": 270, "titleFontSize": 24}},
  "text": {"field": "text", "type": "nominal"}}},
{"data": {"values": [{"text": "188.8", "M_BH": 48.82, "ML": 3.196}]},
 "mark": {"type": "text", "angle": 57, "font": "DejaVu Sans", "fontSize": 17, "align": "center", "baseline": "middle", "color": "#111111"},
 "encoding": {
  "x": {"field": "M_BH", "type": "quantitative", "scale": {"type": "log", "domain": [0.0036, 493], "nice": false},
   "axis": {"orient": "top", "ticks": true, "tickSize": 7.5, "offset": -7.5, "values": [0.004,0.005,0.006,0.007,0.008,0.009,0.02,0.03,0.04,0.05,0.06,0.07,0.08,0.09,0.2,0.3,0.4,0.5,0.6,0.7,0.8,0.9,2,3,4,5,6,7,8,9,20,30,40,50,60,70,80,90,200,300,400], "title": "⊙", "titleX": 393, "titleY": 803.5, "titleFontSize": 25, "titleAngle": 0}},
  "y": {"field": "ML", "type": "quantitative", "scale": {"domain": [0, 4.5], "nice": false, "zero": false},
   "axis": {"orient": "left", "title": "]", "titleX": -48, "titleY": 204, "titleAngle": 270, "titleFontSize": 38}},
  "text": {"field": "text", "type": "nominal"}}},
{"data": {"values": [{"text": "188.8", "M_BH": 20.17, "ML": 0.618}]},
 "mark": {"type": "text", "angle": 45, "font": "DejaVu Sans", "fontSize": 17, "align": "center", "baseline": "middle", "color": "#111111"},
 "encoding": {
  "x": {"field": "M_BH", "type": "quantitative", "scale": {"type": "log", "domain": [0.0036, 493], "nice": false},
   "axis": {"orient": "bottom", "title": "]", "titleX": 418, "titleY": 81, "titleFontSize": 26, "titleAngle": 0}},
  "y": {"field": "ML", "type": "quantitative", "scale": {"domain": [0, 4.5], "nice": false, "zero": false}, "axis": null},
  "text": {"field": "text", "type": "nominal"}}},
{"data": {"values": [{"text": "188.8", "M_BH": 0.004434, "ML": 2.029}]},
 "mark": {"type": "text", "angle": 270, "font": "DejaVu Sans", "fontSize": 17, "align": "center", "baseline": "middle", "color": "#111111"},
 "encoding": {
  "x": {"field": "M_BH", "type": "quantitative", "scale": {"type": "log", "domain": [0.0036, 493], "nice": false},
   "axis": {"orient": "bottom", "title": "d their l", "titleX": -112, "titleY": 93, "titleFont": "Liberation Serif", "titleFontSize": 31, "titleColor": "#111111", "titleAngle": 0}},
  "y": {"field": "ML", "type": "quantitative", "scale": {"domain": [0, 4.5], "nice": false, "zero": false}, "axis": null},
  "text": {"field": "text", "type": "nominal"}}},
{"data": {"values": [{"text": "755.2", "M_BH": 178.6, "ML": 3.87}]},
 "mark": {"type": "text", "angle": 72, "font": "DejaVu Sans", "fontSize": 17, "align": "center", "baseline": "middle", "color": "#111111"},
 "encoding": {
  "x": {"field": "M_BH", "type": "quantitative", "scale": {"type": "log", "domain": [0.0036, 493], "nice": false}, "axis": null},
  "y": {"field": "ML", "type": "quantitative", "scale": {"domain": [0, 4.5], "nice": false, "zero": false}, "axis": null},
  "text": {"field": "text", "type": "nominal"}}},
{"data": {"values": [{"text": "755.2", "M_BH": 424.3, "ML": 0.93}]},
 "mark": {"type": "text", "angle": 90, "font": "DejaVu Sans", "fontSize": 17, "align": "center", "baseline": "middle", "color": "#111111"},
 "encoding": {
  "x": {"field": "M_BH", "type": "quantitative", "scale": {"type": "log", "domain": [0.0036, 493], "nice": false}, "axis": null},
  "y": {"field": "ML", "type": "quantitative", "scale": {"domain": [0, 4.5], "nice": false, "zero": false}, "axis": null},
  "text": {"field": "text", "type": "nominal"}}},
{"data": {"name": "refs"}, "mark": {"type": "rule", "strokeWidth": 3.5},
 "encoding": {
  "x": {"field": "M_BH", "type": "quantitative", "scale": {"type": "log", "domain": [0.0036, 493], "nice": false}, "axis": null},
  "color": {"field": "ref", "type": "nominal", "scale": {"domain": ["A", "B", "C", "D"], "range": ["#ffa500", "#228b22", "#0000ff", "#ff0000"]}, "legend": null},
  "strokeDash": {"field": "ref", "type": "nominal", "scale": {"domain": ["A", "B", "C", "D"], "range": [[11, 3, 2, 3, 2, 3, 2, 4], [12, 8], [24, 13], [7, 3, 2, 3]]}, "legend": null}}},
{"data": {"name": "arrows"}, "mark": {"type": "line", "strokeWidth": 12, "color": "#f93b3b", "strokeCap": "butt"},
 "encoding": {
  "x": {"field": "M_BH", "type": "quantitative", "scale": {"type": "log", "domain": [0.0036, 493], "nice": false}, "axis": null},
  "y": {"field": "ML", "type": "quantitative", "scale": {"domain": [0, 4.5], "nice": false, "zero": false}, "axis": null},
  "detail": {"field": "arrow", "type": "nominal"},
  "order": {"field": "i", "type": "quantitative"}}}
]
}
